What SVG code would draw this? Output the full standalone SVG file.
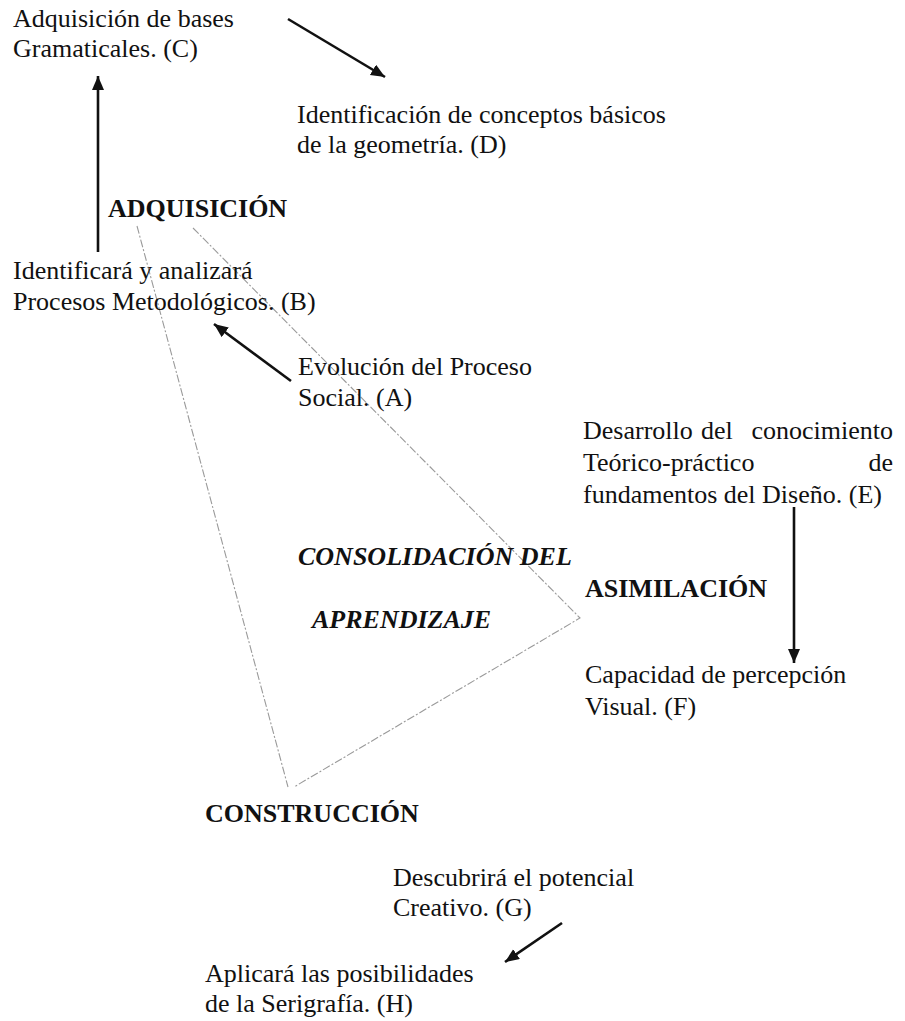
<svg xmlns="http://www.w3.org/2000/svg" width="905" height="1021" viewBox="0 0 905 1021">
<style>
text{font-family:"Liberation Serif","Times New Roman",serif;font-size:26px;fill:#111111}
.b{font-weight:bold}
.bi{font-weight:bold;font-style:italic}
.arr{stroke:#111111;stroke-width:2.6;fill:none;marker-end:url(#ah)}
.tri{stroke:#9a9a9a;stroke-width:1.1;fill:none;stroke-dasharray:8 2 2 2}
</style>
<defs>
<marker id="ah" markerUnits="userSpaceOnUse" markerWidth="16" markerHeight="14" refX="14" refY="6" orient="auto">
<path d="M0,0 L14,6 L0,12 Z" fill="#111111"/>
</marker>
</defs>
<rect width="905" height="1021" fill="#ffffff"/>
<g id="connectors">
<line class="arr" x1="288" y1="19" x2="385" y2="77"/>
<line class="arr" x1="98" y1="252" x2="98" y2="76"/>
<line class="arr" x1="291" y1="381" x2="214" y2="324"/>
<line class="arr" x1="794" y1="507" x2="794" y2="663"/>
<line class="arr" x1="562" y1="923" x2="505" y2="962"/>
</g>
<g id="triangle">
<line class="tri" x1="137" y1="226" x2="288" y2="787"/>
<polyline class="tri" points="193,228 580,618 294,787"/>
</g>
<g id="nodeC"><text x="13" y="27">Adquisición de bases</text><text x="13" y="57">Gramaticales. (C)</text></g>
<g id="nodeD"><text x="297" y="123">Identificación de conceptos básicos</text><text x="297" y="153">de la geometría. (D)</text></g>
<g id="adquisicion"><text class="b" x="108" y="217">ADQUISICIÓN</text></g>
<g id="nodeB"><text x="13" y="279">Identificará y analizará</text><text x="13" y="310">Procesos Metodológicos. (B)</text></g>
<g id="nodeA"><text x="298" y="375">Evolución del Proceso</text><text x="298" y="406">Social. (A)</text></g>
<g id="nodeE">
<text x="583" y="439">Desarrollo</text><text x="701" y="439">del</text><text x="893" y="439" text-anchor="end">conocimiento</text>
<text x="583" y="471">Teórico-práctico</text><text x="893" y="471" text-anchor="end">de</text>
<text x="583" y="503">fundamentos del Diseño. (E)</text>
</g>
<g id="consolidacion"><text class="bi" x="298" y="565">CONSOLIDACIÓN DEL</text><text class="bi" x="312" y="628">APRENDIZAJE</text></g>
<g id="asimilacion"><text class="b" x="585" y="597">ASIMILACIÓN</text></g>
<g id="nodeF"><text x="585" y="683">Capacidad de percepción</text><text x="585" y="715">Visual. (F)</text></g>
<g id="construccion"><text class="b" x="205" y="822">CONSTRUCCIÓN</text></g>
<g id="nodeG"><text x="393" y="886">Descubrirá el potencial</text><text x="393" y="916">Creativo. (G)</text></g>
<g id="nodeH"><text x="205" y="982">Aplicará las posibilidades</text><text x="205" y="1012">de la Serigrafía. (H)</text></g>
</svg>
